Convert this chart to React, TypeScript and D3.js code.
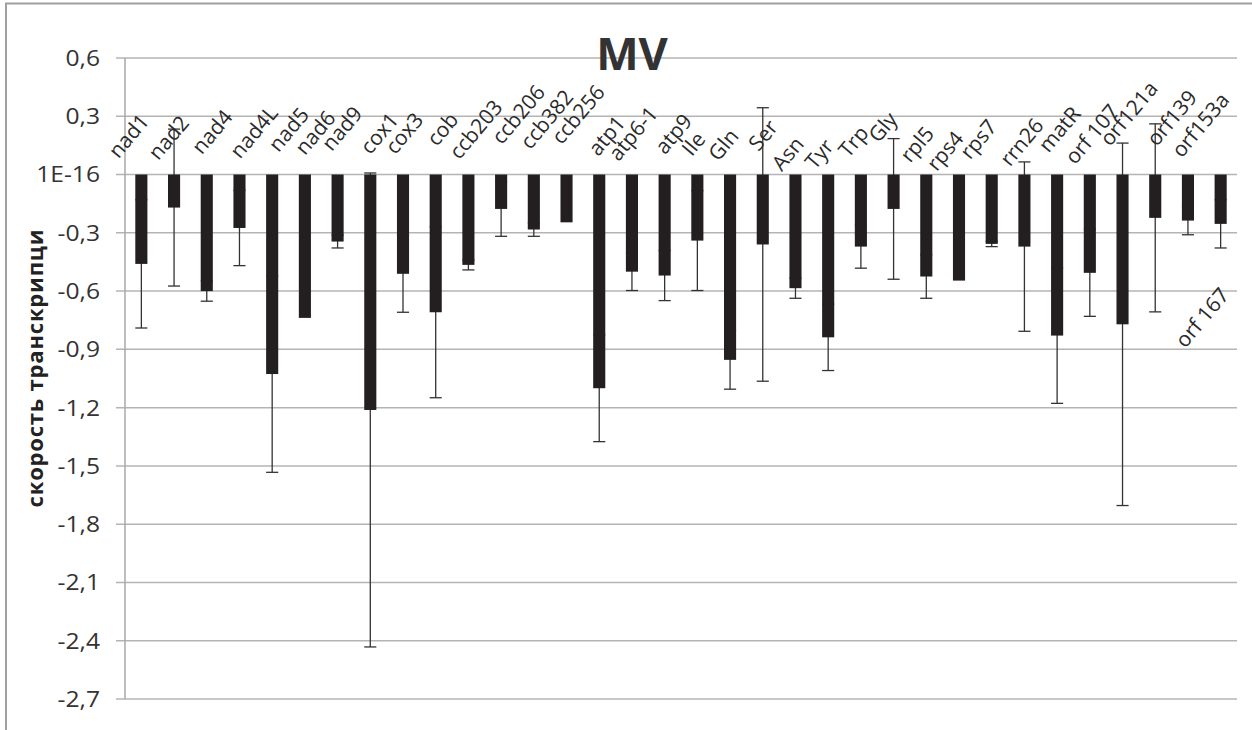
import React from "react";
import * as d3 from "d3";

const categories = ["nad1","nad2","nad4","nad4L","nad5","nad6","nad9","cox1","cox3","cob","ccb203","ccb206","ccb382","ccb256","atp1","atp6-1","atp9","Ile","Gln","Ser","Asn","Tyr","Trp","Gly","rpl5","rps4","rps7","rrn26","matR","orf 107","orf121a","orf139","orf153a","orf 167"];
const values = [-0.46,-0.17,-0.6,-0.275,-1.027,-0.738,-0.345,-1.212,-0.511,-0.709,-0.465,-0.177,-0.283,-0.246,-1.1,-0.5,-0.52,-0.34,-0.954,-0.36,-0.585,-0.838,-0.371,-0.177,-0.525,-0.546,-0.357,-0.371,-0.829,-0.506,-0.771,-0.223,-0.237,-0.254];
const errors = [0.33,0.404,0.052,0.194,0.506,0,0.033,1.22,0.198,0.44,0.026,0.141,0.035,0,0.275,0.097,0.129,0.257,0.151,0.704,0.052,0.171,0.111,0.362,0.112,0,0.014,0.436,0.349,0.224,0.933,0.484,0.073,0.124];
// label anchor: shift in category steps from bar centre, level in axis units
const labelShift = [-0.7,-0.48,-0.15,0.02,0.19,0,-0.18,0,-0.24,0.03,-0.28,0.02,-0.11,-0.15,-0.03,-0.41,0.01,-0.17,-0.36,-0.13,-0.42,-0.4,-0.38,-0.46,-0.49,-0.68,-0.66,-0.44,-0.26,-0.45,-0.38,0.05,-0.19,-1.08];
const labelLevel = [0.077,0.068,0.098,0.076,0.11,0.094,0.115,0.098,0.098,0.14,0.072,0.149,0.124,0.149,0.089,0.063,0.098,0.089,0.063,0.115,0.012,0.021,0.081,0.158,0.055,0.012,0.072,0.036,0.107,0.046,0.14,0.14,0.081,-0.898];
const yTicks = [0.6,0.3,0,-0.3,-0.6,-0.9,-1.2,-1.5,-1.8,-2.1,-2.4,-2.7];
const yTickLabels = ["0,6","0,3","1E-16","-0,3","-0,6","-0,9","-1,2","-1,5","-1,8","-2,1","-2,4","-2,7"];
const title = "MV";
const yTitle = "скорость транскрипци";

export default function App() {
  const W = 1252, H = 730;
  const left = 125, right = 1237, top = 58, bottom = 699;
  const x = d3.scaleBand<string>().domain(categories).range([left, right]).paddingInner(0.63).paddingOuter(0.315);
  const y = d3.scaleLinear().domain([-2.7, 0.6]).range([bottom, top]);
  const bw = x.bandwidth();
  const step = x.step();
  const font = "'Open Sans', sans-serif";
  return (
    <svg width={W} height={H} style={{ position: "absolute", left: 0, top: 0, background: "#fff" }}>
      <rect x={0} y={0} width={W} height={H} fill="#fff" />
      <rect x={6} y={3.5} width={W + 20} height={H + 20} fill="none" stroke="#a0a0a0" strokeWidth={2} />
      {yTicks.map((t, i) => (
        <g key={"g" + i}>
          <line x1={left - 9} x2={right} y1={y(t)} y2={y(t)} stroke="#b4b4b4" strokeWidth={1.5} />
          <text x={100} y={y(t)} dy="0.36em" textAnchor="end" fontFamily={font} fontSize={22} fill="#333" transform={`translate(100,0) scale(1.12,1) translate(-100,0)`}>{yTickLabels[i]}</text>
        </g>
      ))}
      <line x1={left} x2={left} y1={top} y2={bottom} stroke="#a8a8a8" strokeWidth={1.5} />
      {categories.map((c, i) => {
        const cx = (x(c) as number) + bw / 2;
        const e = errors[i];
        if (!e) return null;
        return (
          <g key={"e" + i} stroke="#333" strokeWidth={1.3}>
            <line x1={cx} x2={cx} y1={y(values[i] - e)} y2={y(values[i] + e)} />
            <line x1={cx - bw / 2} x2={cx + bw / 2} y1={y(values[i] - e)} y2={y(values[i] - e)} />
            <line x1={cx - bw / 2} x2={cx + bw / 2} y1={y(values[i] + e)} y2={y(values[i] + e)} />
          </g>
        );
      })}
      {categories.map((c, i) => (
        <rect key={"b" + i} x={x(c)} width={bw} y={y(Math.max(0, values[i]))} height={Math.abs(y(values[i]) - y(0))} fill="#231f20" />
      ))}
      {categories.map((c, i) => {
        const lx = (x(c) as number) + bw / 2 + labelShift[i] * step;
        const ly = y(labelLevel[i]);
        return (
          <text key={"l" + i} x={0} y={0} transform={`translate(${lx},${ly}) rotate(-50)`} fontFamily={font} fontSize={21} fill="#2a2a2a">{c}</text>
        );
      })}
      <text x={632} y={70} textAnchor="middle" fontFamily={font} fontWeight="bold" fontSize={45} fill="#333">{title}</text>
      <text transform={`translate(43,368) rotate(-90)`} textAnchor="middle" fontFamily={font} fontWeight="bold" fontSize={22} letterSpacing={0.8} fill="#222">{yTitle}</text>
    </svg>
  );
}
